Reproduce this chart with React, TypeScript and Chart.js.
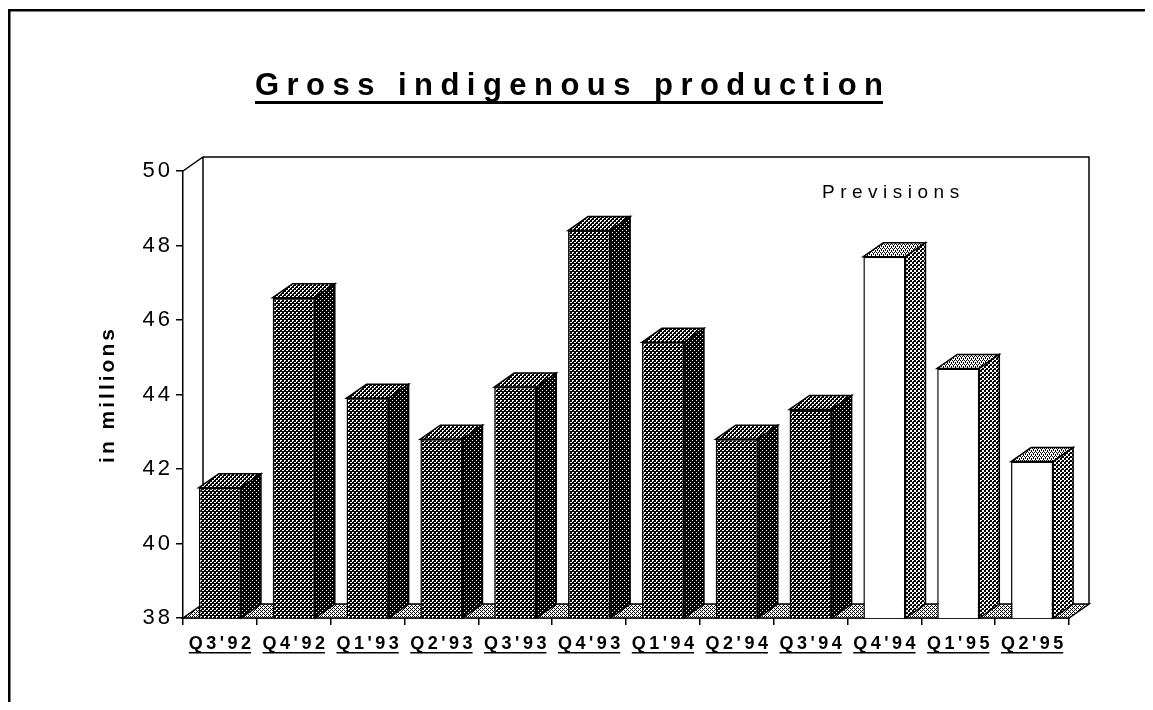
import React, { useEffect, useRef } from 'react';
import { Chart, registerables } from 'chart.js';

Chart.register(...registerables);

const categories = ["Q3'92", "Q4'92", "Q1'93", "Q2'93", "Q3'93", "Q4'93", "Q1'94", "Q2'94", "Q3'94", "Q4'94", "Q1'95", "Q2'95"];
const production = [41.5, 46.6, 43.9, 42.8, 44.2, 48.4, 45.4, 42.8, 43.6, 47.7, 44.7, 42.2];
const previsionCategories = ["Q4'94", "Q1'95", "Q2'95"];
const yTicks = [38, 40, 42, 44, 46, 48, 50];
const titleText = 'Gross indigenous production';
const yAxisLabel = 'in millions';
const previsionsLabel = 'Previsions';

const FONT = '"Liberation Sans", Arial, Helvetica, sans-serif';
const DX = 20;
const DY = 14;

function makePattern(ctx: CanvasRenderingContext2D, size: number, isWhite: (x: number, y: number) => boolean) {
  const c = document.createElement('canvas');
  c.width = size;
  c.height = size;
  const g = c.getContext('2d')!;
  const img = g.createImageData(size, size);
  for (let y = 0; y < size; y++) {
    for (let x = 0; x < size; x++) {
      const v = isWhite(x, y) ? 255 : 0;
      const k = (y * size + x) * 4;
      img.data[k] = v; img.data[k + 1] = v; img.data[k + 2] = v; img.data[k + 3] = 255;
    }
  }
  g.putImageData(img, 0, 0);
  return ctx.createPattern(c, 'repeat')!;
}

function has(list: number[][], x: number, y: number) {
  return list.some(([a, b]) => a === x && b === y);
}

export default function App() {
  const ref = useRef<HTMLCanvasElement>(null);

  useEffect(() => {
    const canvas = ref.current!;
    const c2d = canvas.getContext('2d')!;
    const frontDark = makePattern(c2d, 4, (x, y) => has([[0, 0], [1, 0], [2, 2], [3, 2], [0, 1]], x, y));
    const sideDark = makePattern(c2d, 4, (x, y) => has([[0, 0], [2, 2]], x, y));
    const topDark = makePattern(c2d, 4, (x, y) => has([[0, 0], [1, 0], [0, 1], [2, 2], [3, 2], [2, 3]], x, y));
    const sideLight = makePattern(c2d, 4, (x, y) => ((x >> 1) + (y >> 1)) % 2 === 0 && !(x === 1 && y === 1));
    const topLight = makePattern(c2d, 4, (x, y) => !has([[0, 0], [2, 0], [1, 2], [3, 2], [1, 1], [3, 3]], x, y));
    const floorPat = makePattern(c2d, 4, (x, y) => !((x + y) % 4 === 0 || (x - y + 8) % 4 === 2 && y % 2 === 0));

    const isPrev = (i: number) => previsionCategories.includes(categories[i]);

    const deco = {
      id: 'deco',
      beforeDraw(chart: any) {
        const ctx = chart.ctx as CanvasRenderingContext2D;
        ctx.save();
        ctx.fillStyle = '#000';
        ctx.fillRect(0, 1, 2.5, chart.height);
        ctx.fillRect(0, 1, chart.width, 2.5);
        ctx.font = `bold 31px ${FONT}`;
        (ctx as any).letterSpacing = '0px';
        const raw = ctx.measureText(titleText).width;
        const targetW = 628;
        const sp = Math.max(0, (targetW - raw) / (titleText.length - 1));
        (ctx as any).letterSpacing = `${sp}px`;
        const x0 = 561 - targetW / 2;
        ctx.textAlign = 'left';
        ctx.textBaseline = 'alphabetic';
        ctx.fillText(titleText, x0, 87);
        ctx.fillRect(x0, 93, targetW, 3);
        ctx.restore();
        (ctx as any).letterSpacing = '3px';
      },
      beforeDatasetsDraw(chart: any) {
        const ctx = chart.ctx as CanvasRenderingContext2D;
        const { left, right, top, bottom } = chart.chartArea;
        ctx.save();
        ctx.lineWidth = 1.5;
        ctx.strokeStyle = '#000';
        ctx.beginPath();
        ctx.moveTo(left, bottom);
        ctx.lineTo(right, bottom);
        ctx.lineTo(right + DX, bottom - DY);
        ctx.lineTo(left + DX, bottom - DY);
        ctx.closePath();
        ctx.fillStyle = floorPat;
        ctx.fill();
        ctx.stroke();
        ctx.beginPath();
        ctx.moveTo(left, top);
        ctx.lineTo(left + DX, top - DY);
        ctx.lineTo(right + DX, top - DY);
        ctx.lineTo(right + DX, bottom - DY);
        ctx.moveTo(left + DX, top - DY);
        ctx.lineTo(left + DX, bottom - DY);
        ctx.stroke();
        ctx.restore();
      },
      afterDatasetsDraw(chart: any) {
        const ctx = chart.ctx as CanvasRenderingContext2D;
        const meta = chart.getDatasetMeta(0);
        const base = chart.scales.y.getPixelForValue(yTicks[0]);
        ctx.save();
        ctx.lineWidth = 1.5;
        ctx.strokeStyle = '#000';
        meta.data.forEach((bar: any, i: number) => {
          const { x, y, width } = bar.getProps(['x', 'y', 'width'], true);
          const l = x - width / 2;
          const r = x + width / 2;
          ctx.beginPath();
          ctx.moveTo(l, y);
          ctx.lineTo(l + DX, y - DY);
          ctx.lineTo(r + DX, y - DY);
          ctx.lineTo(r, y);
          ctx.closePath();
          ctx.fillStyle = isPrev(i) ? topLight : topDark;
          ctx.fill();
          ctx.stroke();
          ctx.beginPath();
          ctx.moveTo(r, y);
          ctx.lineTo(r + DX, y - DY);
          ctx.lineTo(r + DX, base - DY);
          ctx.lineTo(r, base);
          ctx.closePath();
          ctx.fillStyle = isPrev(i) ? sideLight : sideDark;
          ctx.fill();
          ctx.stroke();
        });
        ctx.restore();
      },
      afterDraw(chart: any) {
        const ctx = chart.ctx as CanvasRenderingContext2D;
        const xs = chart.scales.x;
        const bottom = chart.chartArea.bottom;
        ctx.save();
        ctx.fillStyle = '#000';
        ctx.font = `bold 18px ${FONT}`;
        (ctx as any).letterSpacing = '3.5px';
        ctx.textAlign = 'left';
        ctx.textBaseline = 'alphabetic';
        categories.forEach((lab, i) => {
          const px = xs.getPixelForTick(i);
          const w = ctx.measureText(lab).width - 3.5;
          ctx.fillText(lab, px - w / 2, bottom + 31);
          ctx.fillRect(px - w / 2, bottom + 34, w, 1.5);
        });
        ctx.font = `19px ${FONT}`;
        (ctx as any).letterSpacing = '5.5px';
        ctx.fillText(previsionsLabel, 814, 190);
        ctx.restore();
        (ctx as any).letterSpacing = '0px';
      },
    };

    const chart = new Chart(canvas, {
      type: 'bar',
      data: {
        labels: categories,
        datasets: [
          {
            data: production,
            backgroundColor: (c: any) => (isPrev(c.dataIndex) ? '#ffffff' : frontDark),
            borderColor: '#000',
            borderWidth: 1.5,
            borderSkipped: false,
            categoryPercentage: 1,
            barPercentage: 0.57,
          },
        ],
      },
      options: {
        responsive: false,
        animation: false,
        events: [],
        layout: { padding: { left: 86, right: 84, top: 163, bottom: 0 } },
        plugins: { legend: { display: false }, tooltip: { enabled: false }, title: { display: false } },
        scales: {
          x: {
            offset: true,
            grid: { offset: true, drawOnChartArea: false, drawTicks: true, tickLength: 7, color: '#000', lineWidth: 1.5 },
            border: { display: true, color: '#000', width: 1.5 },
            ticks: { color: 'rgba(0,0,0,0)', font: { family: FONT, size: 18, weight: 'bold' }, padding: 7, maxRotation: 0, autoSkip: false },
            afterFit: (s: any) => { s.height = 84; },
          },
          y: {
            min: 38,
            max: 50,
            afterBuildTicks: (s: any) => { s.ticks = yTicks.map((v) => ({ value: v })); },
            grid: { drawOnChartArea: false, drawTicks: true, tickLength: 7, color: '#000', lineWidth: 1.5 },
            border: { display: true, color: '#000', width: 1.5 },
            ticks: { color: '#000', font: { family: FONT, size: 22 }, padding: 3 },
            title: { display: true, text: yAxisLabel, color: '#000', font: { family: FONT, size: 21, weight: 'bold' }, padding: { top: 2, bottom: 0 } },
            afterFit: (s: any) => { s.width = 89; },
          },
        },
      },
      plugins: [deco],
    } as any);
    return () => chart.destroy();
  }, []);

  return (
    <div style={{ width: 1145, height: 694, background: '#fff' }}>
      <canvas ref={ref} width={1145} height={694} style={{ display: 'block' }} />
    </div>
  );
}
